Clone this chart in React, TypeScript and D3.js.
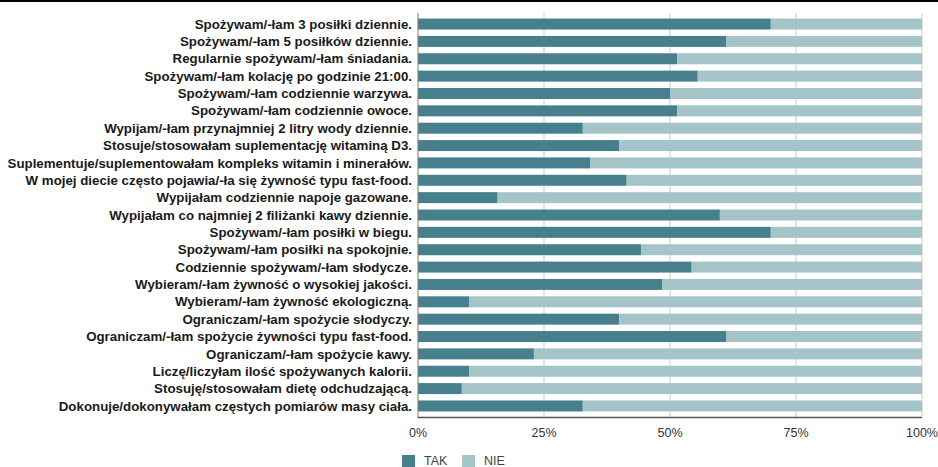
import React from "react";
import * as d3 from "d3";

const categories: string[] = [
  "Spożywam/-łam 3 posiłki dziennie.",
  "Spożywam/-łam 5 posiłków dziennie.",
  "Regularnie spożywam/-łam śniadania.",
  "Spożywam/-łam kolację po godzinie 21:00.",
  "Spożywam/-łam codziennie warzywa.",
  "Spożywam/-łam codziennie owoce.",
  "Wypijam/-łam przynajmniej 2 litry wody dziennie.",
  "Stosuje/stosowałam suplementację witaminą D3.",
  "Suplementuje/suplementowałam kompleks witamin i minerałów.",
  "W mojej diecie często pojawia/-ła się żywność typu fast-food.",
  "Wypijałam codziennie napoje gazowane.",
  "Wypijałam co najmniej 2 filiżanki kawy dziennie.",
  "Spożywam/-łam posiłki w biegu.",
  "Spożywam/-łam posiłki na spokojnie.",
  "Codziennie spożywam/-łam słodycze.",
  "Wybieram/-łam żywność o wysokiej jakości.",
  "Wybieram/-łam żywność ekologiczną.",
  "Ograniczam/-łam spożycie słodyczy.",
  "Ograniczam/-łam spożycie żywności typu fast-food.",
  "Ograniczam/-łam spożycie kawy.",
  "Liczę/liczyłam ilość spożywanych kalorii.",
  "Stosuję/stosowałam dietę odchudzającą.",
  "Dokonuje/dokonywałam częstych pomiarów masy ciała.",
];

const takValues: number[] = [
  70.0, 61.2, 51.4, 55.5, 50.0, 51.4, 32.7, 39.9, 34.2, 41.4, 15.8, 59.9,
  70.0, 44.3, 54.3, 48.5, 10.2, 39.9, 61.2, 23.0, 10.2, 8.7, 32.7,
];

const nieValues: number[] = [
  30.0, 38.8, 48.6, 44.5, 50.0, 48.6, 67.3, 60.1, 65.8, 58.6, 84.2, 40.1,
  30.0, 55.7, 45.7, 51.5, 89.8, 60.1, 38.8, 77.0, 89.8, 91.3, 67.3,
];

const seriesNames: string[] = ["TAK", "NIE"];
const seriesColors: string[] = ["#47808c", "#a4c4c8"];
const tickValues: number[] = [0, 25, 50, 75, 100];

const W = 938;
const H = 467;
const margin = { left: 418, right: 16, top: 13, bottom: 50 };

export default function App() {
  const x = d3
    .scaleLinear()
    .domain([0, 100])
    .range([margin.left, W - margin.right]);
  const y = d3
    .scaleBand<string>()
    .domain(categories)
    .range([margin.top, H - margin.bottom])
    .paddingInner(0.367)
    .paddingOuter(0.32);

  const rows = categories.map((c, i) => ({
    c,
    vals: [takValues[i], nieValues[i]],
  }));

  const font = "'Liberation Sans', Arial, sans-serif";
  const y0 = margin.top;
  const y1 = H - margin.bottom;

  return (
    <svg
      width={W}
      height={H}
      style={{ position: "absolute", left: 0, top: 0, background: "#fff" }}
      fontFamily={font}
    >
      <rect x={0} y={0} width={W} height={H} fill="#fff" />
      <line x1={0} x2={W} y1={1} y2={1} stroke="#000" strokeWidth={2} />
      {tickValues.slice(1).map((t) => (
        <line
          key={"g" + t}
          x1={x(t)}
          x2={x(t)}
          y1={y0}
          y2={y1}
          stroke="#dcdcdc"
          strokeWidth={1.5}
        />
      ))}
      {rows.map((r) => {
        let acc = 0;
        return (
          <g key={r.c}>
            {r.vals.map((v, j) => {
              const start = acc;
              acc += v;
              return (
                <rect
                  key={j}
                  x={x(start)}
                  y={y(r.c)}
                  width={x(start + v) - x(start)}
                  height={y.bandwidth()}
                  fill={seriesColors[j]}
                />
              );
            })}
            <text
              x={margin.left - 6}
              y={(y(r.c) as number) + y.bandwidth() / 2}
              dy="0.35em"
              textAnchor="end"
              fontSize={13.3}
              fontWeight="bold"
              fill="#1a1a1a"
            >
              {r.c}
            </text>
          </g>
        );
      })}
      <line
        x1={margin.left}
        x2={margin.left}
        y1={y0}
        y2={y1 + 1}
        stroke="#777"
        strokeWidth={1}
      />
      <line
        x1={margin.left}
        x2={W - margin.right}
        y1={y1 + 0.5}
        y2={y1 + 0.5}
        stroke="#555"
        strokeWidth={1.5}
      />
      {tickValues.map((t) => (
        <text
          key={"t" + t}
          x={x(t)}
          y={433}
          dy="0.35em"
          textAnchor="middle"
          fontSize={12.5}
          fill="#333"
        >
          {t + "%"}
        </text>
      ))}
      {seriesNames.map((s, i) => {
        const lx = 402 + i * 60;
        return (
          <g key={s}>
            <rect x={lx} y={455} width={13} height={13} fill={seriesColors[i]} />
            <text x={lx + 22} y={461} dy="0.35em" fontSize={12.5} fill="#444">
              {s}
            </text>
          </g>
        );
      })}
    </svg>
  );
}
